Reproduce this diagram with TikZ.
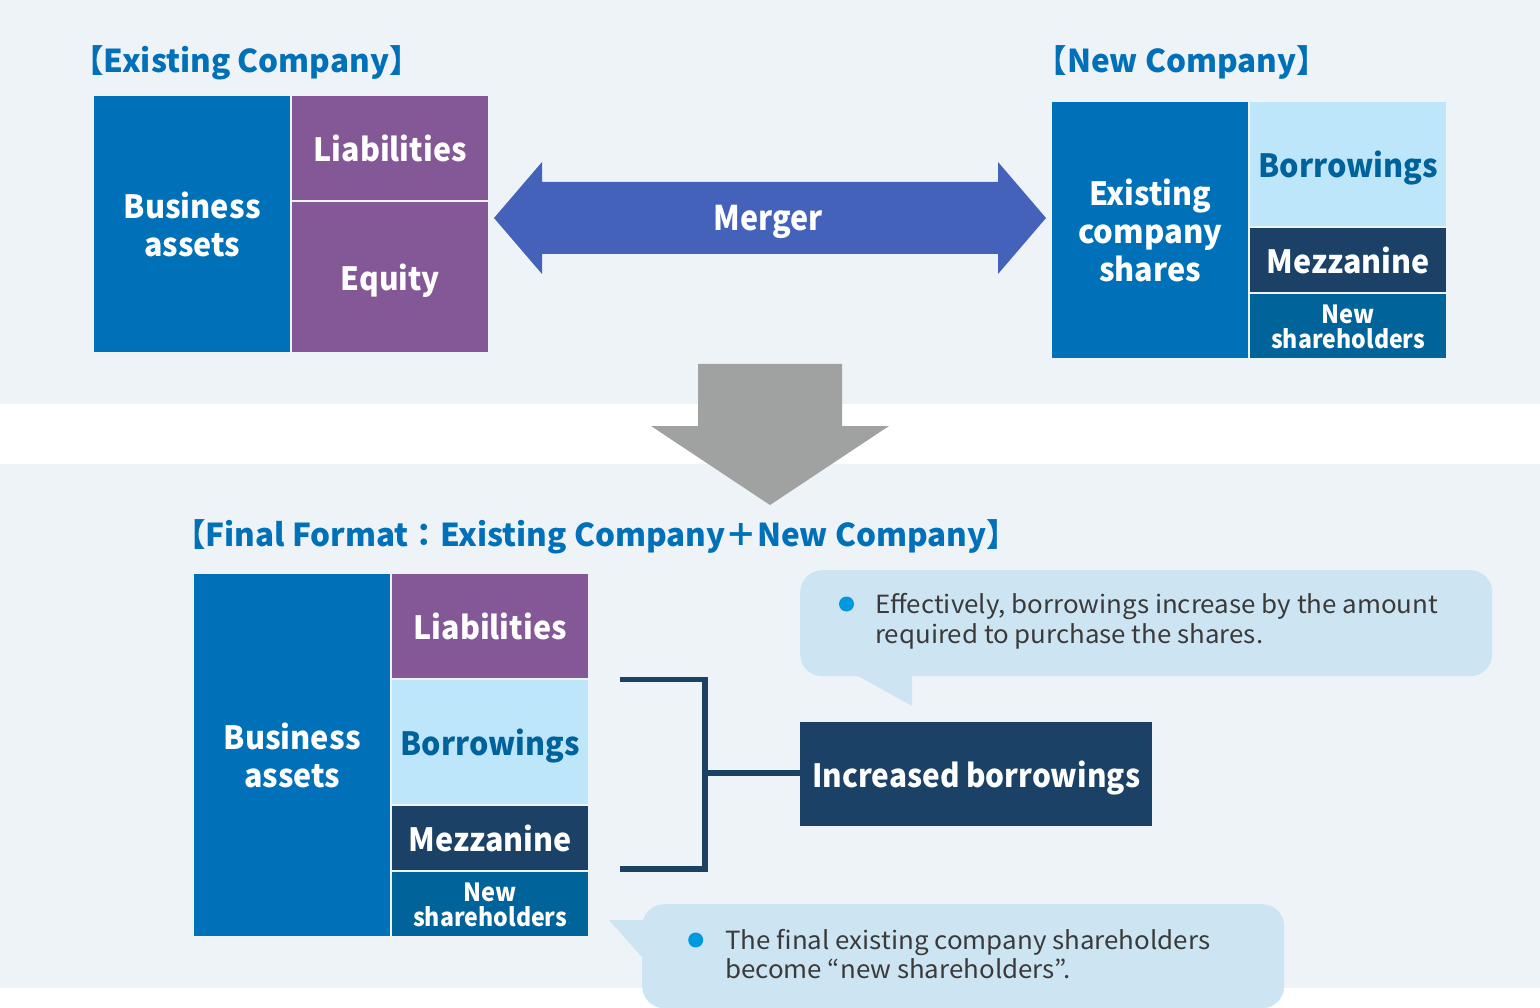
\documentclass[tikz,border=0pt]{standalone}
\usepackage{fontspec}
\usepackage{graphicx}
\setmainfont{Noto Sans CJK JP}
\newcommand{\fitto}[2]{\resizebox{#1}{\height}{#2}}
\definecolor{bgc}{HTML}{EEF3F8}
\definecolor{bluebox}{HTML}{0071B8}
\definecolor{purp}{HTML}{845896}
\definecolor{ltblue}{HTML}{BEE6FB}
\definecolor{borrowtxt}{HTML}{00629A}
\definecolor{navy}{HTML}{1B4266}
\definecolor{newsh}{HTML}{006399}
\definecolor{mergec}{HTML}{4462BA}
\definecolor{grayarr}{HTML}{A0A2A1}
\definecolor{callc}{HTML}{CDE4F3}
\definecolor{bullc}{HTML}{0098DF}
\definecolor{titlec}{HTML}{0070B8}
\definecolor{bodyc}{HTML}{3A3A3A}
\tikzset{
  box/.style={anchor=north west, inner sep=0pt, text depth=0pt, align=center,
    text=white, minimum width=196pt, font=\bfseries\fontsize{32}{38}\selectfont},
  multibox/.style={box, text depth=-4pt},
  smallbox/.style={box, font=\bfseries\fontsize{25}{25}\selectfont},
  ttl/.style={anchor=base, inner sep=0pt, text=titlec, font=\bfseries\fontsize{31.5}{38}\selectfont},
  bodytxt/.style={anchor=base west, inner sep=0pt, text=bodyc, font=\fontsize{25}{30}\selectfont},
  bullet/.style={circle, fill=bullc, minimum size=15pt, inner sep=0pt},
  callout/.style={anchor=north west, fill=callc, rounded corners=22pt, inner sep=0pt},
  bracket/.style={draw=navy, line width=5.5pt, line join=miter}
}
\begin{document}
\begin{tikzpicture}[x=1pt,y=-1pt]
\useasboundingbox (0,0) rectangle (1540,1008);
% backgrounds
\fill[bgc] (0,0) rectangle (1540,404);
\fill[bgc] (0,464) rectangle (1540,988);

% titles
\node[ttl] (t1) at (246.5,73) {【Existing Company】};
\node[ttl] (t2) at (1182,73) {【New Company】};
\node[ttl] (t3) at (596,546) {【Final Format：Existing Company＋New Company】};

% existing company
\node[multibox, fill=bluebox, minimum height=256pt] (ba1) at (94,96) {\fitto{137pt}{Business}\\\fitto{96pt}{assets}};
\node[box, fill=purp, minimum height=104pt] (li1) at (292,96) {\fitto{153pt}{Liabilities}};
\node[box, fill=purp, minimum height=150pt] (eq1) at (292,202) {\fitto{99pt}{Equity}};

% merger arrow
\fill[mergec] (494,218) -- (542,162) -- (542,182) -- (998,182) -- (998,162) -- (1046,218)
  -- (998,274) -- (998,254) -- (542,254) -- (542,274) -- cycle;
\node[inner sep=0pt, text depth=0pt, text=white, font=\bfseries\fontsize{34}{40}\selectfont] (mt) at (768,218) {\fitto{109pt}{Merger}};

% new company
\node[multibox, fill=bluebox, minimum height=256pt] (ecs) at (1052,102) {\fitto{122pt}{Existing}\\\fitto{144pt}{company}\\\fitto{102pt}{shares}};
\node[box, fill=ltblue, text=borrowtxt, minimum height=124pt] (bo1) at (1250,102) {\fitto{180pt}{Borrowings}};
\node[box, fill=navy, minimum height=64pt] (mz1) at (1250,228) {\fitto{163pt}{Mezzanine}};
\node[smallbox, fill=newsh, minimum height=64pt] (ns1) at (1250,294) {\fitto{53pt}{New}\\\fitto{154pt}{shareholders}};

% down arrow
\fill[grayarr] (698,364) -- (842,364) -- (842,426) -- (889,426) -- (770,505) -- (651,426) -- (698,426) -- cycle;

% final format
\node[multibox, fill=bluebox, minimum height=362pt] (ba2) at (194,574) {\fitto{137pt}{Business}\\\fitto{96pt}{assets}};
\node[box, fill=purp, minimum height=104pt] (li2) at (392,574) {\fitto{153pt}{Liabilities}};
\node[box, fill=ltblue, text=borrowtxt, minimum height=124pt] (bo2) at (392,680) {\fitto{179pt}{Borrowings}};
\node[box, fill=navy, minimum height=64pt] (mz2) at (392,806) {\fitto{163pt}{Mezzanine}};
\node[smallbox, fill=newsh, minimum height=64pt] (ns2) at (392,872) {\fitto{53pt}{New}\\\fitto{154pt}{shareholders}};

% bracket and increased borrowings
\node[box, fill=navy, minimum width=352pt, minimum height=104pt] (inc) at (800,722) {\fitto{328pt}{Increased borrowings}};
\coordinate (bt) at (620,679.5);
\coordinate (bb) at (620,869);
\coordinate (bmid) at (705,773);
\draw[bracket] (bt) -- (bt -| bmid) -- (bb -| bmid) -- (bb);
\draw[bracket] (bmid) -- (inc.west |- bmid);

% callout 1
\node[callout, minimum width=692pt, minimum height=106pt] (c1) at (800,570) {};
\fill[callc] (858,670) -- (912,670) -- (912,706) -- (858,676) -- cycle;
\node[bullet] (b1) at (846.5,604) {};
\node[bodytxt] (c1a) at (875,613) {\fitto{563pt}{Effectively, borrowings increase by the amount}};
\node[bodytxt] (c1b) at (875,643) {\fitto{388pt}{required to purchase the shares.}};

% callout 2
\node[callout, minimum width=642pt, minimum height=104pt] (c2) at (642,904) {};
\fill[callc] (609,920) -- (665,920) -- (665,983) -- cycle;
\node[bullet] (b2) at (695.7,940) {};
\node[bodytxt] (c2a) at (725,949) {\fitto{485pt}{The final existing company shareholders}};
\node[bodytxt] (c2b) at (725,978) {\fitto{345pt}{become “new shareholders”.}};
\end{tikzpicture}
\end{document}
